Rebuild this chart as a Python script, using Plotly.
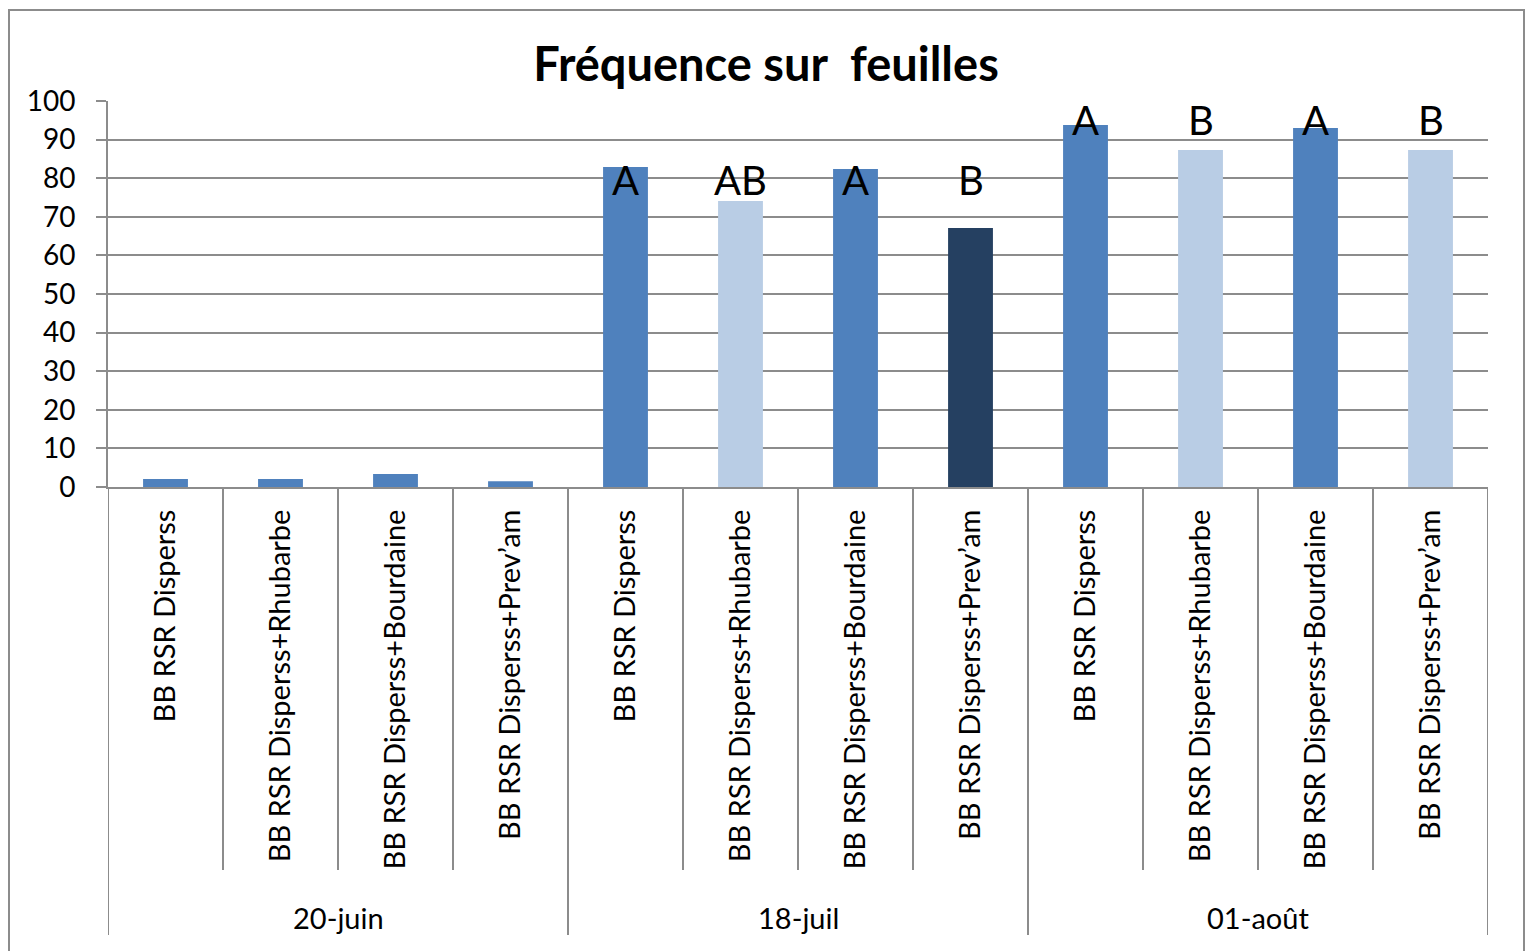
import plotly.graph_objects as go

dates = ["20-juin", "18-juil", "01-août"]
treatments = ["BB RSR Disperss", "BB RSR Disperss+Rhubarbe",
              "BB RSR Disperss+Bourdaine", "BB RSR Disperss+Prev’am"]
values = [2.1, 2.1, 3.4, 1.5,
          82.9, 74.1, 82.4, 67.1,
          93.8, 87.3, 93.0, 87.3]
colors = ["#4F81BD", "#4F81BD", "#4F81BD", "#4F81BD",
          "#4F81BD", "#B9CDE5", "#4F81BD", "#254061",
          "#4F81BD", "#B9CDE5", "#4F81BD", "#B9CDE5"]
letters = ["", "", "", "",
           "A", "AB", "A", "B",
           "A", "B", "A", "B"]
letter_heights = [None, None, None, None,
                  79.5, 79.5, 79.5, 79.5,
                  95, 95, 95, 95]
y_ticks = list(range(0, 101, 10))

FONT = "Lato"
GRID = "#8C8C8C"

labels = [t for d in dates for t in treatments]
xpos = list(range(len(labels)))

# body margin removed via post_script: figure coords = page coords
FW, FH = 1527, 951
L, R, T, B = 108, 1488, 101, 487
H = B - T
W = R - L
def py(pix):
    return (B - pix) / H
def px(pix):
    return (pix - L) / W

fig = go.Figure()
fig.add_trace(go.Bar(x=xpos, y=values, marker=dict(color=colors, line=dict(width=0)),
                     width=0.39, hoverinfo="y"))

for i, (l, h) in enumerate(zip(letters, letter_heights)):
    if l:
        fig.add_annotation(x=i, y=h, text=l, showarrow=False, xref="x", yref="y",
                           yanchor="middle", font=dict(family=FONT, size=40, color="black"))

n = len(labels)
per = len(treatments)
for i in range(n + 1):
    bottom = 935 if i % per == 0 else 870
    fig.add_shape(type="line", xref="x", yref="paper", x0=i - 0.5, x1=i - 0.5,
                  y0=py(487), y1=py(bottom), line=dict(color=GRID, width=2))

for g, d in enumerate(dates):
    fig.add_annotation(x=g * per + (per - 1) / 2, y=py(917), xref="x", yref="paper",
                       text=d, showarrow=False, yanchor="middle",
                       font=dict(family=FONT, size=29, color="black"))

# outer border
fig.add_shape(type="rect", xref="paper", yref="paper", x0=px(9), x1=px(1524),
              y0=py(970), y1=py(10), line=dict(color="#8C8C8C", width=2), layer="below")

fig.update_layout(
    width=FW, height=FH,
    margin=dict(l=L, r=FW - R, t=T, b=FH - B, autoexpand=False),
    paper_bgcolor="white", plot_bgcolor="white",
    showlegend=False,
    title=dict(text="<b>Fréquence sur  feuilles</b>", x=px(766), xref="paper",
               xanchor="center", y=(FH - 65) / FH, yanchor="middle",
               font=dict(family=FONT, size=47, color="black")),
    font=dict(family=FONT, size=27, color="black"),
    xaxis=dict(range=[-0.5, n - 0.5], tickmode="array", tickvals=xpos, ticktext=labels,
               tickangle=-90, ticks="", showgrid=False, zeroline=False,
               showline=True, linecolor=GRID, linewidth=2, ticklabelstandoff=9,
               tickfont=dict(family=FONT, size=29, color="black")),
    yaxis=dict(range=[0, 100], tickmode="array", tickvals=y_ticks,
               showgrid=True, gridcolor=GRID, gridwidth=2,
               zeroline=False, showline=True, linecolor=GRID, linewidth=2,
               ticks="outside", ticklen=10, tickcolor=GRID, tickwidth=2,
               ticklabelstandoff=15,
               tickfont=dict(family=FONT, size=28, color="black")),
    bargap=0.6,
)

fig.write_html("out.html", config={"displayModeBar": False},
               post_script="document.body.style.margin='0px';document.body.style.overflow='hidden';")
